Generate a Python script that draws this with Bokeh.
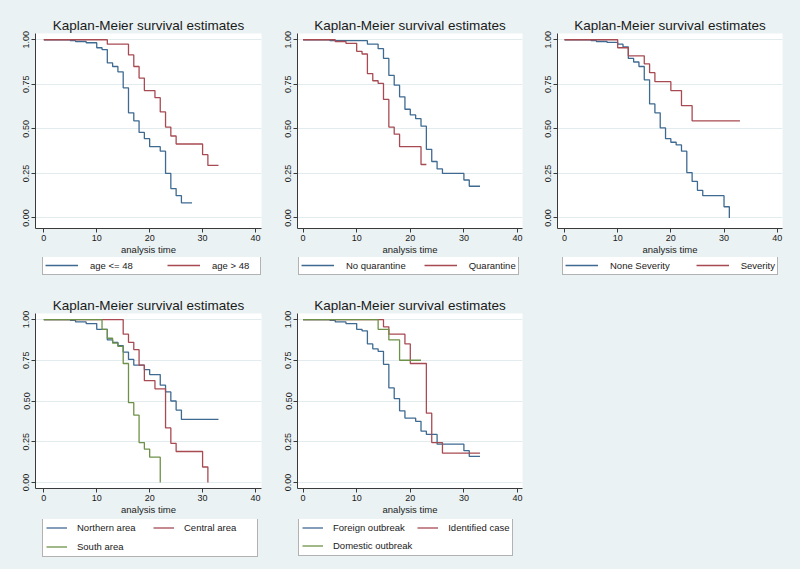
from bokeh.plotting import figure
from bokeh.layouts import column, row
from bokeh.models import Legend, LegendItem, FixedTicker, PrintfTickFormatter, Range1d, Div
from bokeh.embed import file_html
from bokeh.resources import INLINE

BG = "#EAF2F3"
BLUE = "#3E6A91"
RED = "#A84A52"
GREEN = "#6E9148"
FONT = "Liberation Sans"

x_ticks = [0, 10, 20, 30, 40]
y_ticks = [0.0, 0.25, 0.5, 0.75, 1.0]
title_text = "Kaplan-Meier survival estimates"
x_title = "analysis time"

# ---- Panel 1: age ----
age_le48_label = "age <= 48"
age_le48_time = [0, 5, 6, 8, 10, 11, 12, 13, 14, 15, 16, 17, 18, 19, 20, 22, 23, 24, 25, 26]
age_le48_surv = [1, .995, .99, .983, .955, .945, .87, .85, .82, .73, .59, .545, .48, .445, .40, .375, .25, .165, .125, .085]
age_le48_end = 28
age_gt48_label = "age > 48"
age_gt48_time = [0, 12, 16, 17, 18, 19, 21, 22, 23, 24, 25, 30, 31]
age_gt48_surv = [1, .975, .915, .85, .785, .715, .675, .595, .51, .46, .415, .355, .295]
age_gt48_end = 33

# ---- Panel 2: quarantine ----
noq_label = "No quarantine"
noq_time = [0, 5, 12, 14, 15, 16, 17, 18, 19, 20, 21, 22, 23, 24, 25, 26, 30, 31]
noq_surv = [1, .995, .975, .95, .895, .80, .745, .68, .61, .578, .557, .515, .385, .317, .275, .25, .213, .178]
noq_end = 33
q_label = "Quarantine"
q_time = [0, 6, 8, 10, 11, 12, 13, 14, 15, 16, 17, 18, 22]
q_surv = [1, .99, .98, .935, .92, .81, .77, .755, .665, .51, .47, .40, .30]
q_end = 23

# ---- Panel 3: severity ----
nsev_label = "None Severity"
nsev_time = [0, 5, 6, 8, 10, 11, 12, 13, 14, 15, 16, 17, 18, 19, 20, 21, 22, 23, 24, 25, 26, 30, 31]
nsev_surv = [1, .995, .99, .985, .975, .96, .895, .875, .85, .775, .64, .59, .505, .445, .425, .41, .375, .255, .205, .155, .125, .063, 0.0]
nsev_end = 31
sev_label = "Severity"
sev_time = [0, 10, 12, 15, 16, 17, 20, 22, 24]
sev_surv = [1, .955, .91, .865, .815, .765, .715, .63, .545]
sev_end = 33

# ---- Panel 4: area ----
north_label = "Northern area"
north_time = [0, 5, 6, 8, 10, 12, 13, 14, 15, 16, 17, 19, 20, 22, 23, 24, 25, 26]
north_surv = [1, .995, .985, .975, .94, .875, .86, .84, .80, .755, .72, .693, .662, .597, .556, .50, .444, .387]
north_end = 33
central_label = "Central area"
central_time = [0, 15, 16, 17, 18, 19, 21, 23, 24, 25, 30, 31]
central_surv = [1, .91, .86, .815, .72, .625, .575, .335, .24, .19, .095, 0.0]
central_end = 31
south_label = "South area"
south_time = [0, 11, 12, 13, 14, 15, 16, 17, 18, 19, 20, 22]
south_surv = [1, .94, .885, .855, .835, .73, .49, .413, .245, .205, .155, 0.0]
south_end = 22

# ---- Panel 5: source ----
foreign_label = "Foreign outbreak"
foreign_time = [0, 5, 6, 8, 10, 11, 12, 13, 14, 15, 16, 17, 18, 19, 21, 22, 23, 25, 30, 31]
foreign_surv = [1, .995, .985, .975, .94, .93, .85, .82, .805, .725, .58, .515, .44, .395, .375, .315, .295, .235, .195, .16]
foreign_end = 33
ident_label = "Identified case"
ident_time = [0, 15, 16, 19, 20, 23, 24, 26]
ident_surv = [1, .955, .91, .85, .73, .425, .245, .18]
ident_end = 33
domestic_label = "Domestic outbreak"
domestic_time = [0, 14, 16, 18]
domestic_surv = [1, .94, .875, .75]
domestic_end = 22


def steps(times, surv, end):
    return list(times) + [end], list(surv) + [surv[-1]]


def make_panel(series, top, geo, leg):
    width, left, right, xr = geo
    if top:
        h_main, bt, bb, h_leg = 257, 33, 27, 23
        yr = (-0.059, 1.035)
    else:
        h_main, bt, bb, h_leg = 239, 33, 31, 50
        yr = (-0.037, 1.037)
    p = figure(width=width, height=h_main,
               min_border_left=left, min_border_right=right,
               min_border_top=bt, min_border_bottom=bb,
               x_range=Range1d(*xr), y_range=Range1d(*yr),
               toolbar_location=None, output_backend="svg",
               background_fill_color="white", border_fill_color=BG,
               outline_line_color=None, title=title_text)
    p.title.align = "center"
    p.title.text_font = FONT
    p.title.text_font_size = "13.5px"
    p.title.text_font_style = "normal"
    p.title.text_color = "#1a1a1a"
    p.title.standoff = 1

    p.xgrid.visible = False
    p.ygrid.grid_line_color = "#E2EBEE"
    p.ygrid.grid_line_width = 1

    for ax in (p.xaxis[0], p.yaxis[0]):
        ax.axis_line_color = "#3a3a3a"
        ax.major_tick_line_color = "#3a3a3a"
        ax.major_tick_out = 4
        ax.major_tick_in = 0
        ax.minor_tick_line_color = None
        ax.major_label_text_font = FONT
        ax.major_label_text_font_size = "9px"
        ax.major_label_text_color = "#1a1a1a"
        ax.major_label_standoff = 2
    p.xaxis.ticker = FixedTicker(ticks=x_ticks)
    p.yaxis.ticker = FixedTicker(ticks=y_ticks)
    p.yaxis.formatter = PrintfTickFormatter(format="%.2f")
    p.yaxis.major_label_orientation = "vertical"
    p.xaxis.axis_label = x_title
    p.xaxis.axis_label_text_font = FONT
    p.xaxis.axis_label_text_font_size = "9.5px"
    p.xaxis.axis_label_text_font_style = "normal"
    p.xaxis.axis_label_text_color = "#1a1a1a"
    p.xaxis.axis_label_standoff = 0

    for label, t, s, end, color in series:
        xs, ys = steps(t, s, end)
        p.step(xs, ys, mode="after", line_color=color, line_width=1.3)

    # legend strip below the panel (its frame is aligned with the panel frame)
    lf = figure(width=width, height=h_leg, min_border=0,
                min_border_left=left, min_border_right=right,
                x_range=Range1d(1000, 1001), y_range=Range1d(0, 1),
                x_axis_location=None, y_axis_location=None,
                toolbar_location=None, output_backend="svg",
                background_fill_color=BG, border_fill_color=BG,
                outline_line_color=None)
    lf.grid.visible = False
    items = []
    for label, t, s, end, color in series:
        xs, ys = steps(t, s, end)
        r = lf.step(xs, ys, mode="after", line_color=color, line_width=1.3)
        items.append(LegendItem(label=label, renderers=[r]))
    gh = 14 if top else 13
    nrows = 1 if len(items) <= 2 else 2
    box_h = 2 * leg["pad"] + nrows * gh + (nrows - 1) * leg["spacing"]
    ly = h_leg - leg["top"] - box_h
    legend = Legend(items=items, location=(leg["x"], ly), orientation="horizontal",
                    margin=0, padding=leg["pad"], spacing=leg["spacing"],
                    glyph_width=leg["gw"], glyph_height=gh, label_height=gh,
                    label_width=leg["lw"], label_standoff=leg["so"],
                    label_text_font=FONT, label_text_font_size="9.5px",
                    label_text_color="#1a1a1a",
                    border_line_color="#666666", border_line_width=1,
                    background_fill_color="white", background_fill_alpha=1.0)
    if len(items) > 2:
        legend.ncols = 2
    lf.add_layout(legend)
    return column(p, lf)


p1 = make_panel([(age_le48_label, age_le48_time, age_le48_surv, age_le48_end, BLUE),
                 (age_gt48_label, age_gt48_time, age_gt48_surv, age_gt48_end, RED)],
                True, (265, 35, 4, (-1.57, 41.13)),
                dict(x=7, top=0, pad=2, spacing=31, gw=33, lw=46, so=12))
p2 = make_panel([(noq_label, noq_time, noq_surv, noq_end, BLUE),
                 (q_label, q_time, q_surv, q_end, RED)],
                True, (265, 32, 8, (-1.04, 40.93)),
                dict(x=1, top=0, pad=2, spacing=18, gw=33, lw=0, so=12))
p3 = make_panel([(nsev_label, nsev_time, nsev_surv, nsev_end, BLUE),
                 (sev_label, sev_time, sev_surv, sev_end, RED)],
                True, (270, 27, 18, (-1.32, 41.0)),
                dict(x=5, top=0, pad=2, spacing=26, gw=33, lw=0, so=12))
p4 = make_panel([(north_label, north_time, north_surv, north_end, BLUE),
                 (central_label, central_time, central_surv, central_end, RED),
                 (south_label, south_time, south_surv, south_end, GREEN)],
                False, (265, 35, 4, (-1.57, 41.13)),
                dict(x=7, top=0, pad=3, spacing=6, gw=21, lw=70, so=10))
p5 = make_panel([(foreign_label, foreign_time, foreign_surv, foreign_end, BLUE),
                 (ident_label, ident_time, ident_surv, ident_end, RED),
                 (domestic_label, domestic_time, domestic_surv, domestic_end, GREEN)],
                False, (265, 32, 8, (-1.04, 40.93)),
                dict(x=1, top=0, pad=3, spacing=5, gw=21, lw=0, so=10))

blank = Div(text="", width=270, height=289, margin=0,
            styles={"background-color": BG})

layout = column(row(p1, p2, p3), row(p4, p5, blank),
                styles={"background-color": BG})

open("out.html", "w").write(file_html(layout, INLINE))
